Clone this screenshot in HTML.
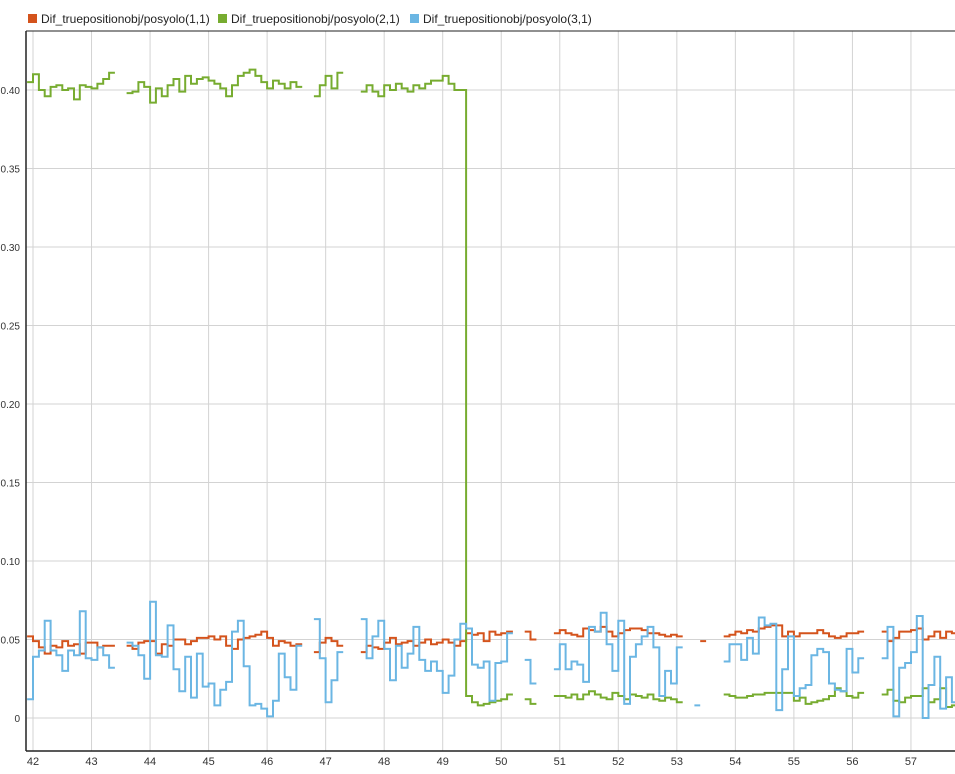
<!DOCTYPE html>
<html><head><meta charset="utf-8"><style>
body{margin:0;background:#fff;font-family:"Liberation Sans",Arial,sans-serif;}
svg text{font-family:"Liberation Sans",Arial,sans-serif;}
</style></head><body>
<svg id="chart" width="955" height="769" xmlns="http://www.w3.org/2000/svg">
<rect x="0" y="0" width="955" height="769" fill="#fff"/>
<defs><clipPath id="pc"><rect x="26" y="31" width="929" height="720"/></clipPath></defs>
<g id="grid"></g>
<g id="series" clip-path="url(#pc)"></g>
<line x1="26" y1="31" x2="955" y2="31" stroke="#222" stroke-width="1"/>
<line x1="26" y1="31" x2="26" y2="751" stroke="#222" stroke-width="1.5"/>
<line x1="26" y1="751" x2="955" y2="751" stroke="#222" stroke-width="1.5"/>
<g id="axes"></g>
<g font-size="12" fill="#222">
<rect x="28" y="14" width="9" height="9" fill="#d4531c"/>
<text x="41" y="23">Dif_truepositionobj/posyolo(1,1)</text>
<rect x="218" y="14" width="9" height="9" fill="#77ac30"/>
<text x="231" y="23">Dif_truepositionobj/posyolo(2,1)</text>
<rect x="410" y="14" width="9" height="9" fill="#6bb6e3"/>
<text x="423" y="23">Dif_truepositionobj/posyolo(3,1)</text>
</g>
</svg>
<script>
const tStart = 41.9, tStep = 0.1;
const xTicks = [42,43,44,45,46,47,48,49,50,51,52,53,54,55,56,57];
const yTicks = [0,0.05,0.10,0.15,0.20,0.25,0.30,0.35,0.40];
const yTickLabels = ["0","0.05","0.10","0.15","0.20","0.25","0.30","0.35","0.40"];
const N = null;
const green = [0.405,0.41,0.40,0.396,0.402,0.403,0.40,0.401,0.394,0.403,0.402,0.401,0.404,0.407,0.411,
N,N,
0.398,0.399,0.405,0.402,0.392,0.401,0.396,0.403,0.407,0.399,0.409,0.404,0.407,0.408,0.406,0.404,0.401,0.396,0.403,0.409,0.411,0.413,0.409,0.405,0.401,0.406,0.404,0.401,0.405,0.402,
N,N,
0.396,0.403,0.409,0.401,0.411,
N,N,N,
0.399,0.403,0.399,0.396,0.403,0.400,0.404,0.401,0.399,0.403,0.401,0.404,0.406,0.406,0.409,0.404,0.400,0.400,
0.014,0.010,0.008,0.009,0.010,0.011,0.012,0.015,
N,N,
0.012,0.009,
N,N,N,
0.014,0.014,0.013,0.015,0.012,0.015,0.017,0.015,0.013,0.012,0.016,0.014,0.012,0.015,0.014,0.013,0.015,0.012,0.011,0.013,0.012,0.010,
N,N,N,N,N,N,N,
0.015,0.014,0.013,0.013,0.014,0.015,0.015,0.016,0.016,0.016,0.016,0.016,0.011,0.013,0.009,0.010,0.011,0.012,0.014,0.019,0.017,0.014,0.013,0.016,
N,N,N,
0.015,0.018,0.011,0.010,0.013,0.014,0.014,0.019,0.010,0.012,0.019,0.007,0.008];
const orange = [0.052,0.049,0.045,0.041,0.046,0.045,0.049,0.046,0.047,0.041,0.048,0.048,0.045,0.046,0.046,
N,N,
0.046,0.044,0.048,0.049,0.049,0.041,0.047,0.046,0.050,0.050,0.047,0.049,0.051,0.051,0.052,0.050,0.052,0.046,0.044,0.050,0.051,0.052,0.053,0.055,0.051,0.046,0.049,0.048,0.046,0.047,
N,N,
0.042,0.048,0.051,0.049,0.046,
N,N,N,
0.042,0.046,0.045,0.044,0.048,0.051,0.047,0.048,0.049,0.046,0.048,0.050,0.047,0.048,0.050,0.048,0.046,0.049,
0.054,0.053,0.054,0.049,0.055,0.053,0.054,0.055,
N,N,
0.055,0.050,
N,N,N,
0.054,0.056,0.054,0.053,0.052,0.057,0.056,0.055,0.058,0.055,0.052,0.054,0.056,0.057,0.057,0.056,0.054,0.054,0.053,0.052,0.053,0.052,
N,N,N,0.049,N,N,N,
0.052,0.053,0.055,0.054,0.056,0.055,0.057,0.058,0.059,0.059,0.052,0.055,0.052,0.054,0.054,0.054,0.056,0.054,0.052,0.051,0.052,0.054,0.054,0.055,
N,N,N,
0.055,0.049,0.051,0.055,0.055,0.056,0.057,0.050,0.052,0.055,0.051,0.055,0.054];
const blue = [0.012,0.039,0.043,0.062,0.043,0.040,0.030,0.043,0.040,0.068,0.038,0.037,0.045,0.040,0.032,
N,N,
0.048,0.046,0.040,0.025,0.074,0.040,0.039,0.059,0.031,0.017,0.039,0.013,0.041,0.020,0.022,0.008,0.018,0.023,0.055,0.062,0.033,0.008,0.009,0.006,0.001,0.011,0.041,0.026,0.018,0.046,
N,N,
0.063,0.038,0.010,0.024,0.042,
N,N,N,
0.063,0.038,0.052,0.062,0.044,0.024,0.046,0.032,0.041,0.058,0.037,0.030,0.036,0.030,0.016,0.027,0.050,0.060,
0.057,0.034,0.032,0.036,0.011,0.035,0.036,0.054,
N,N,
0.037,0.022,
N,N,N,
0.031,0.047,0.031,0.036,0.034,0.023,0.058,0.055,0.067,0.047,0.030,0.062,0.009,0.039,0.047,0.052,0.058,0.045,0.014,0.030,0.022,0.045,
N,N,0.008,N,N,N,N,
0.036,0.047,0.047,0.037,0.051,0.041,0.064,0.059,0.060,0.005,0.031,0.052,0.014,0.019,0.021,0.040,0.044,0.042,0.022,0.018,0.017,0.044,0.029,0.038,
N,N,N,
0.038,0.058,0.001,0.032,0.035,0.042,0.065,0.000,0.021,0.039,0.006,0.026,0.010];

const NS = "http://www.w3.org/2000/svg";
function xs(t){ return 33 + (t - 42) * 58.53; }
function ys(v){ return 718 - v * 1570; }
const grid = document.getElementById('grid');
const axes = document.getElementById('axes');
xTicks.forEach(function(t){
  const l = document.createElementNS(NS,'line');
  l.setAttribute('x1',xs(t)); l.setAttribute('x2',xs(t)); l.setAttribute('y1',31); l.setAttribute('y2',751);
  l.setAttribute('stroke','#d3d3d3'); l.setAttribute('stroke-width','1');
  
  
  grid.appendChild(l);
  const tx = document.createElementNS(NS,'text');
  tx.setAttribute('x',xs(t)); tx.setAttribute('y',765); tx.setAttribute('text-anchor','middle');
  tx.setAttribute('font-size','11'); tx.setAttribute('fill','#333'); tx.textContent = String(t);
  
  
  axes.appendChild(tx);
});
yTicks.forEach(function(v,i){
  const l = document.createElementNS(NS,'line');
  l.setAttribute('x1',26); l.setAttribute('x2',955); l.setAttribute('y1',ys(v)); l.setAttribute('y2',ys(v));
  l.setAttribute('stroke','#d3d3d3'); l.setAttribute('stroke-width','1');
  
  
  grid.appendChild(l);
  const tx = document.createElementNS(NS,'text');
  tx.setAttribute('x',20); tx.setAttribute('y',ys(v)+4); tx.setAttribute('text-anchor','end');
  tx.setAttribute('font-size','10'); tx.setAttribute('fill','#333'); tx.textContent = yTickLabels[i];
  
  
  axes.appendChild(tx);
});
const seriesG = document.getElementById('series');
function drawSeries(vals, color, name){
  let d = '', prev = null;
  vals.forEach(function(v,i){
    if (v === null) { prev = null; return; }
    const x0 = xs(tStart + i*tStep), x1 = xs(tStart + (i+1)*tStep), y = ys(v);
    if (prev === null) d += 'M' + x0.toFixed(1) + ' ' + y.toFixed(1);
    else d += 'L' + x0.toFixed(1) + ' ' + y.toFixed(1);
    d += 'L' + x1.toFixed(1) + ' ' + y.toFixed(1);
    prev = v;
  });
  const p = document.createElementNS(NS,'path');
  p.setAttribute('d', d); p.setAttribute('fill','none'); p.setAttribute('stroke',color);
  p.setAttribute('stroke-width','2');
  
  
  seriesG.appendChild(p);
}
drawSeries(orange, '#d4531c', 'series-1-line');
drawSeries(green, '#77ac30', 'series-2-line');
drawSeries(blue, '#6bb6e3', 'series-3-line');
</script>
</body></html>
